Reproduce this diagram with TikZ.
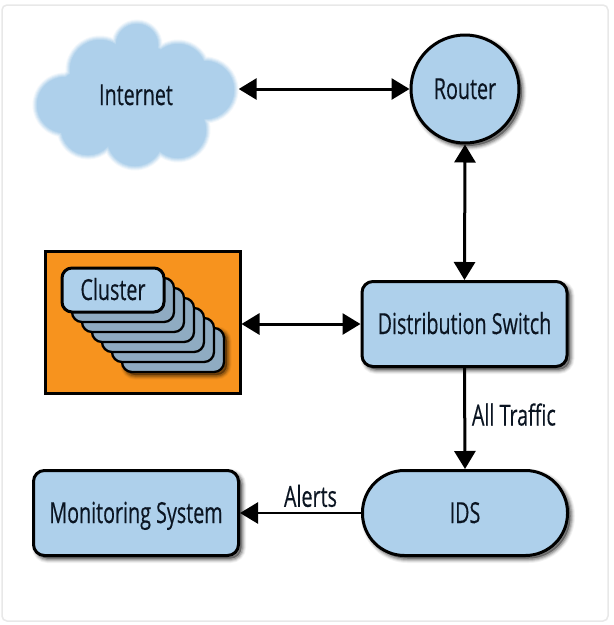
\documentclass[tikz,border=0pt]{standalone}
\usepackage{fontspec}
\setmainfont[FakeStretch=0.68,FakeBold=0.35]{Open Sans}
\usetikzlibrary{arrows.meta}
\definecolor{boxblue}{HTML}{AED0EB}
\definecolor{stackblue}{HTML}{8FABC2}
\definecolor{panelorange}{HTML}{F7931E}
\definecolor{inkblue}{HTML}{0B1522}
\definecolor{framegray}{HTML}{E8E8E8}
\newcommand{\cloudlobes}{
  (137,45) circle (21) (100,70) circle (30) (65,105) circle (28)
  (88,128) circle (27) (135,138) circle (28) (178,130) circle (28)
  (178,72) circle (28) (205,90) circle (29) (135,95) circle (52)
  (85,100) circle (30) (175,100) circle (30)
}
\tikzset{
  softshadow/.style={
    preaction={draw=black,fill=black,opacity=.05,line width=9pt,transform canvas={shift={(3pt,-3pt)}}},
    preaction={draw=black,fill=black,opacity=.08,line width=7pt,transform canvas={shift={(3pt,-3pt)}}},
    preaction={draw=black,fill=black,opacity=.12,line width=5pt,transform canvas={shift={(3pt,-3pt)}}},
    preaction={draw=black,fill=black,opacity=.16,line width=3pt,transform canvas={shift={(3pt,-3pt)}}}
  },
  labeltext/.style={text=inkblue,font=\fontsize{29}{32}\selectfont,inner sep=0pt,text height=20pt,text depth=0pt},
  diagbox/.style={labeltext,draw=black,fill=boxblue,line width=3pt,rounded corners=11pt,softshadow,
    minimum width=205pt,minimum height=85pt},
  stackbox/.style={draw=black,fill=stackblue,line width=2.3pt,rounded corners=10pt,
    minimum width=102pt,minimum height=44pt,inner sep=0pt},
  arrowline/.style={line width=3pt,draw=black,-{Triangle[length=18pt,width=21pt]}},
  botharrow/.style={line width=3pt,draw=black,{Triangle[length=18pt,width=21pt]}-{Triangle[length=18pt,width=21pt]}}
}
\begin{document}
\begin{tikzpicture}[x=1pt,y=-1pt]
\useasboundingbox (0,0) rectangle (614,625);
\fill[white] (0,0) rectangle (614,625);
\draw[framegray,line width=1.5pt,rounded corners=5pt] (2,5) rectangle (608,621);

% cloud, with a blurred edge
\fill[boxblue!15,draw=boxblue!15,line width=9pt] \cloudlobes;
\fill[boxblue!35,draw=boxblue!35,line width=7pt] \cloudlobes;
\fill[boxblue!55,draw=boxblue!55,line width=5pt] \cloudlobes;
\fill[boxblue!75,draw=boxblue!75,line width=3pt] \cloudlobes;
\fill[boxblue!90,draw=boxblue!90,line width=1pt] \cloudlobes;
\fill[boxblue] \cloudlobes;
\node[labeltext,minimum width=205pt,minimum height=20pt] (internet) at (136,95) {Internet};

\node[labeltext,draw=black,fill=boxblue,line width=3pt,circle,softshadow,minimum size=108pt] (router) at (465,89) {Router};

% cluster panel
\node[draw=black,fill=panelorange,line width=3pt,minimum width=195pt,minimum height=142pt,inner sep=0pt] (panel) at (142.5,322) {};
\node[stackbox,softshadow] (stack6) at (173,350) {};
\foreach \i in {5,4,...,1}{
  \node[stackbox] (stack\i) at ({113+10*\i},{290+10*\i}) {};
}
\node[labeltext,draw=black,fill=boxblue,line width=3pt,rounded corners=10pt,minimum width=102pt,minimum height=44pt] (cluster) at (113,290) {Cluster};

\node[diagbox] (switch) at (464.5,324) {Distribution Switch};
\node[diagbox,rounded corners=42pt] (ids) at (465,513) {IDS};
\node[diagbox] (monitor) at (136,513) {Monitoring System};

\draw[botharrow] (internet.east |- router.west) -- (router.west);
\draw[botharrow] (router.south) -- (switch.north);
\draw[botharrow] (panel.east |- switch.west) -- (switch.west);
\draw[arrowline] (switch.south) -- (ids.north);
\path (switch.south) -- (ids.north) node[labeltext,midway,anchor=west,xshift=7pt,yshift=3pt] (traffic) {All Traffic};
\draw[arrowline,line width=2.5pt] (ids.west) -- (monitor.east);
\path (ids.west) -- (monitor.east) node[labeltext,midway,anchor=south,xshift=10pt,yshift=6pt] (alerts) {Alerts};
\end{tikzpicture}
\end{document}
